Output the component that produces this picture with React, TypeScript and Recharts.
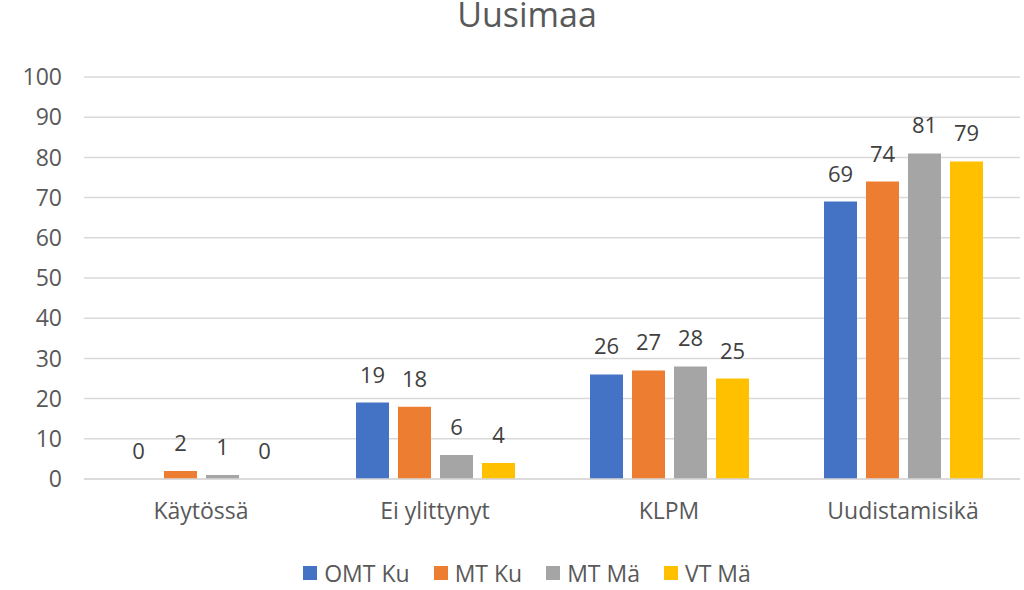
import React from "react";
import { BarChart, Bar, XAxis, YAxis, CartesianGrid, Legend, LabelList } from "recharts";

const categories = ["Käytössä", "Ei ylittynyt", "KLPM", "Uudistamisikä"];
const omtKu = [0, 19, 26, 69];
const mtKu = [2, 18, 27, 74];
const mtMa = [1, 6, 28, 81];
const vtMa = [0, 4, 25, 79];
const yTicks = [0, 10, 20, 30, 40, 50, 60, 70, 80, 90, 100];

const SERIES = [
  { key: "omtKu", name: "OMT Ku", color: "#4472C4", values: omtKu },
  { key: "mtKu", name: "MT Ku", color: "#ED7D31", values: mtKu },
  { key: "mtMa", name: "MT Mä", color: "#A5A5A5", values: mtMa },
  { key: "vtMa", name: "VT Mä", color: "#FFC000", values: vtMa },
];

const data = categories.map((name, i) => {
  const row: Record<string, string | number> = { name };
  SERIES.forEach((s) => (row[s.key] = s.values[i]));
  return row;
});

const FONT = "'Open Sans', sans-serif";

const LegendContent = () => (
  <div style={{ display: "flex", justifyContent: "center", fontFamily: FONT, fontSize: 23, color: "#595959" }}>
    {SERIES.map((s) => (
      <div key={s.key} style={{ display: "flex", alignItems: "center", margin: "0 12px" }}>
        <span style={{ width: 14, height: 14, background: s.color, marginRight: 7, display: "inline-block" }} />
        <span>{s.name}</span>
      </div>
    ))}
  </div>
);

// draws the value above the bar, also when the value is 0
const TopLabel = (props: any) => {
  const { x, y, width, height, value } = props;
  if (x == null || y == null) return null;
  const top = Math.min(Number(y), Number(y) + Number(height || 0));
  return (
    <text
      x={Number(x) + Number(width) / 2}
      y={top - 20}
      textAnchor="middle"
      fill="#404040"
      fontSize={22}
      fontFamily={FONT}
    >
      {value}
    </text>
  );
};

// zero bars get a hair height so their label is still drawn
const minSize = (v: number | undefined | null) => (v === 0 ? 0.01 : 0);

const App: React.FC = () => {
  return (
    <div style={{ position: "absolute", left: 0, top: 0, width: 1024, height: 590, background: "#fff" }}>
      <div
        style={{
          position: "absolute",
          top: 0,
          left: 0,
          width: 1054,
          textAlign: "center",
          fontFamily: FONT,
          fontSize: 34,
          lineHeight: "28px",
          color: "#595959",
        }}
      >
        Uusimaa
      </div>
      <BarChart
        width={1024}
        height={590}
        data={data}
        margin={{ top: 77, right: 4, left: 0, bottom: 71 }}
        barSize={33}
        barGap={9}
      >
        <CartesianGrid vertical={false} stroke="#d9d9d9" strokeWidth={1.5} />
        <XAxis
          dataKey="name"
          height={40}
          tickLine={false}
          axisLine={{ stroke: "#d9d9d9", strokeWidth: 1.5 }}
          tick={{ fill: "#595959", fontSize: 23, fontFamily: FONT }}
          tickMargin={18}
        />
        <YAxis
          width={84}
          domain={[0, 100]}
          ticks={yTicks}
          interval={0}
          axisLine={false}
          tickLine={false}
          tickMargin={16}
          tick={{ fill: "#595959", fontSize: 23, fontFamily: FONT }}
        />
        <Legend
          layout="horizontal"
          verticalAlign="middle"
          align="center"
          content={<LegendContent />}
          wrapperStyle={{ top: 557, left: 0, width: 1054 }}
        />
        {SERIES.map((s) => (
          <Bar
            key={s.key}
            dataKey={s.key}
            name={s.name}
            fill={s.color}
            minPointSize={minSize as any}
            isAnimationActive={false}
          >
            <LabelList dataKey={s.key} content={<TopLabel />} />
          </Bar>
        ))}
      </BarChart>
    </div>
  );
};

export default App;
